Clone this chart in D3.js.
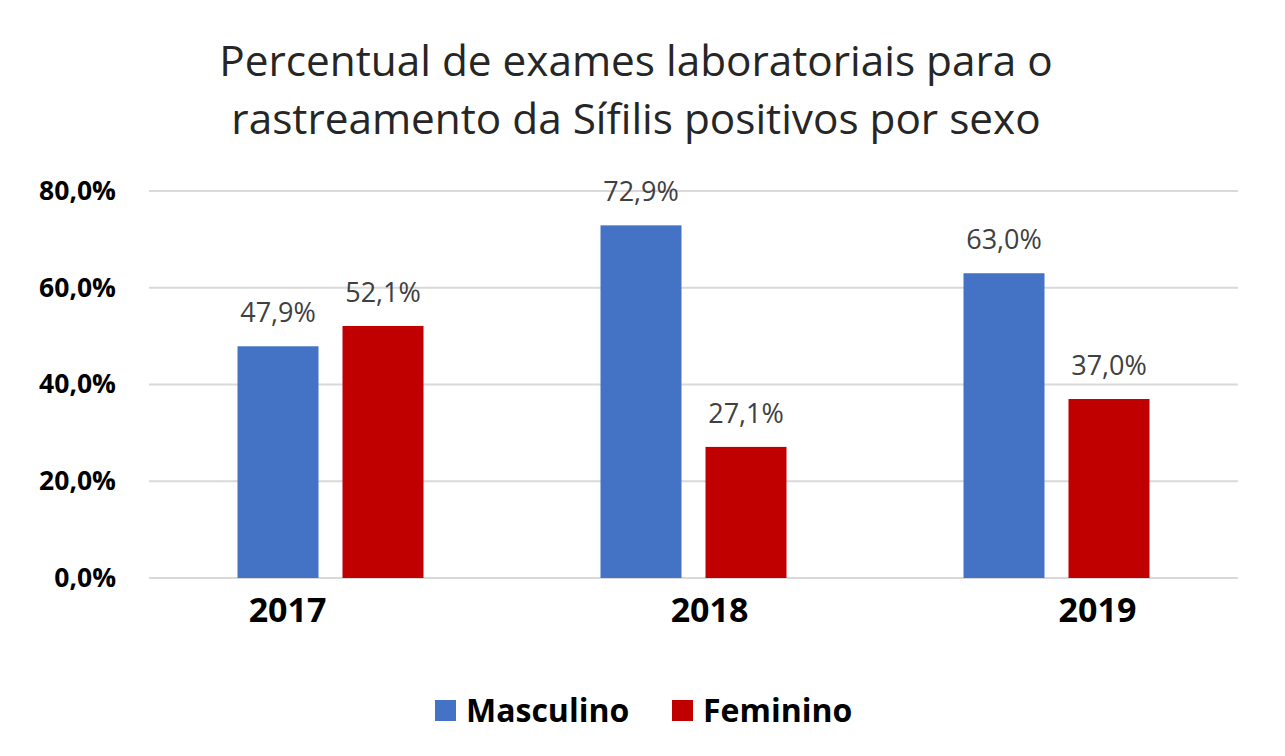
<!DOCTYPE html>
<html>
    <head>
        <meta charset="utf-8">
        <title>Sífilis por sexo</title>
        <script src="https://d3js.org/d3.v7.min.js"></script>
        <style>
         body { margin: 0; background: #fff; }
         svg { font-family: "Open Sans", sans-serif; }
        </style>
    </head>
    <body>
        <svg width="1285" height="756"></svg>
        <script>
         // data
         const years = ["2017", "2018", "2019"];
         const seriesNames = ["Masculino", "Feminino"];
         const masculino = [0.479, 0.729, 0.630];
         const feminino = [0.521, 0.271, 0.370];
         const yTicks = [0, 0.2, 0.4, 0.6, 0.8];
         const titleLines = ["Percentual de exames laboratoriais para o",
                             "rastreamento da Sífilis positivos por sexo"];

         const colors = {Masculino: "#4472C4", Feminino: "#C00000"};
         // year labels are not centred under their groups in the original
         const yearLabelShift = [-43, 16, 41];

         const svg = d3.select("svg");
         const fmt = v => d3.format(".1f")(v * 100).replace(".", ",") + "%";

         const plot = {left: 149, right: 1238, top: 191, bottom: 578};

         const x0 = d3.scaleBand().domain(years).range([plot.left, plot.right]);
         const yScale = d3.scaleLinear().domain([0, 0.8]).range([plot.bottom, plot.top]);

         const groupWidth = 186;
         const x1 = d3.scaleBand().domain(seriesNames)
                      .range([0, groupWidth]).paddingInner(24 / 105);

         // title
         svg.append("g").selectAll("text")
            .data(titleLines)
            .join("text")
            .attr("x", 636)
            .attr("y", (d, i) => 76 + i * 58)
            .attr("text-anchor", "middle")
            .attr("font-size", "42.3px")
            .attr("fill", "#262626")
            .text(d => d);

         // grid
         svg.append("g").selectAll("line")
            .data(yTicks)
            .join("line")
            .attr("x1", plot.left).attr("x2", plot.right)
            .attr("y1", d => yScale(d)).attr("y2", d => yScale(d))
            .attr("stroke", "#d9d9d9")
            .attr("stroke-width", 2);

         // y axis labels
         const yAxis = svg.append("g")
                          .attr("transform", "translate(116,0)")
                          .call(d3.axisLeft(yScale).tickValues(yTicks).tickFormat(fmt).tickSize(0).tickPadding(0));
         yAxis.select(".domain").remove();
         yAxis.selectAll("text")
              .attr("font-family", "'Open Sans', sans-serif")
              .attr("font-size", "26.5px")
              .attr("font-weight", "bold")
              .attr("fill", "#000");

         // x axis labels
         const xAxis = svg.append("g")
                          .attr("transform", `translate(0,${plot.bottom})`)
                          .call(d3.axisBottom(x0).tickSize(0).tickPadding(0));
         xAxis.select(".domain").remove();
         xAxis.selectAll("text")
              .attr("font-family", "'Open Sans', sans-serif")
              .attr("font-size", "34px")
              .attr("font-weight", "bold")
              .attr("fill", "#000")
              .attr("dy", null)
              .attr("y", 44)
              .attr("x", (d, i) => yearLabelShift[i]);

         const rows = years.map((yr, i) => ({
             year: yr,
             values: [{key: "Masculino", v: masculino[i]}, {key: "Feminino", v: feminino[i]}]
         }));

         const groups = svg.append("g").selectAll("g")
                           .data(rows)
                           .join("g")
                           .attr("transform", d => `translate(${x0(d.year) + (x0.bandwidth() - groupWidth) / 2},0)`);

         groups.selectAll("rect")
               .data(d => d.values)
               .join("rect")
               .attr("x", d => x1(d.key))
               .attr("y", d => yScale(d.v))
               .attr("width", x1.bandwidth())
               .attr("height", d => yScale(0) - yScale(d.v))
               .attr("fill", d => colors[d.key]);

         groups.selectAll("text")
               .data(d => d.values)
               .join("text")
               .attr("x", d => x1(d.key) + x1.bandwidth() / 2)
               .attr("y", d => yScale(d.v) - 24)
               .attr("text-anchor", "middle")
               .attr("font-size", "27px")
               .attr("fill", "#404040")
               .text(d => fmt(d.v));

         // legend
         const legendX = [435, 672];
         const legend = svg.append("g").selectAll("g")
                           .data(seriesNames)
                           .join("g")
                           .attr("transform", (d, i) => `translate(${legendX[i]},700)`);
         legend.append("rect")
               .attr("width", 21).attr("height", 21)
               .attr("fill", d => colors[d]);
         legend.append("text")
               .attr("x", 31)
               .attr("y", 22)
               .attr("font-size", "32px")
               .attr("font-weight", "bold")
               .attr("fill", "#000")
               .text(d => d);
        </script>
    </body>
</html>
